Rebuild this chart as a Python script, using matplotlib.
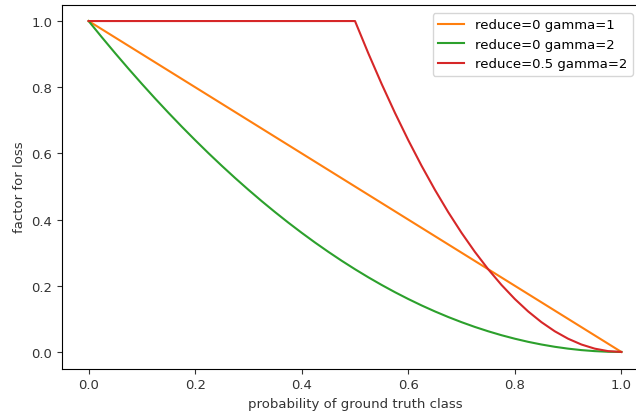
import matplotlib
matplotlib.use("Agg")
import matplotlib.pyplot as plt

# probability of ground truth class
prob = [0.0, 0.025, 0.05, 0.075, 0.1, 0.125, 0.15, 0.175, 0.2, 0.225,
        0.25, 0.275, 0.3, 0.325, 0.35, 0.375, 0.4, 0.425, 0.45, 0.475,
        0.5, 0.525, 0.55, 0.575, 0.6, 0.625, 0.65, 0.675, 0.7, 0.725,
        0.75, 0.775, 0.8, 0.825, 0.85, 0.875, 0.9, 0.925, 0.95, 0.975, 1.0]

factor_r0_g1 = [1.0, 0.975, 0.95, 0.925, 0.9, 0.875, 0.85, 0.825, 0.8, 0.775,
                0.75, 0.725, 0.7, 0.675, 0.65, 0.625, 0.6, 0.575, 0.55, 0.525,
                0.5, 0.475, 0.45, 0.425, 0.4, 0.375, 0.35, 0.325, 0.3, 0.275,
                0.25, 0.225, 0.2, 0.175, 0.15, 0.125, 0.1, 0.075, 0.05, 0.025, 0.0]
factor_r0_g2 = [1.0, 0.9506, 0.9025, 0.8556, 0.81, 0.7656, 0.7225, 0.6806, 0.64, 0.6006,
                0.5625, 0.5256, 0.49, 0.4556, 0.4225, 0.3906, 0.36, 0.3306, 0.3025, 0.2756,
                0.25, 0.2256, 0.2025, 0.1806, 0.16, 0.1406, 0.1225, 0.1056, 0.09, 0.0756,
                0.0625, 0.0506, 0.04, 0.0306, 0.0225, 0.0156, 0.01, 0.0056, 0.0025, 0.0006, 0.0]
factor_r05_g2 = [1.0, 1.0, 1.0, 1.0, 1.0, 1.0, 1.0, 1.0, 1.0, 1.0,
                 1.0, 1.0, 1.0, 1.0, 1.0, 1.0, 1.0, 1.0, 1.0, 1.0,
                 1.0, 0.9025, 0.81, 0.7225, 0.64, 0.5625, 0.49, 0.4225, 0.36, 0.3025,
                 0.25, 0.2025, 0.16, 0.1225, 0.09, 0.0625, 0.04, 0.0225, 0.01, 0.0025, 0.0]

labels = ["reduce=0 gamma=1", "reduce=0 gamma=2", "reduce=0.5 gamma=2"]
colors = ["#ff7f0e", "#2ca02c", "#d62728"]

fig = plt.figure(figsize=(6.36, 4.14), dpi=100)
ax = fig.add_axes([62 / 636, 44.5 / 414, 586 / 636, 364 / 414])

for ys, lab, col in zip([factor_r0_g1, factor_r0_g2, factor_r05_g2], labels, colors):
    ax.plot(prob, ys, color=col, linewidth=1.5, label=lab)

ax.set_xlim(-0.05, 1.05)
ax.set_ylim(-0.05, 1.05)
ax.set_xticks([0.0, 0.2, 0.4, 0.6, 0.8, 1.0])
ax.set_yticks([0.0, 0.2, 0.4, 0.6, 0.8, 1.0])
ax.tick_params(labelsize=9.5, colors="#333333")
ax.set_xlabel("probability of ground truth class", fontsize=9.5, color="#333333")
ax.set_ylabel("factor for loss", fontsize=9.5, color="#333333")
ax.legend(loc="upper right", fontsize=9.5, bbox_to_anchor=(0.985, 0.995))

fig.savefig("out.png", dpi=100)
